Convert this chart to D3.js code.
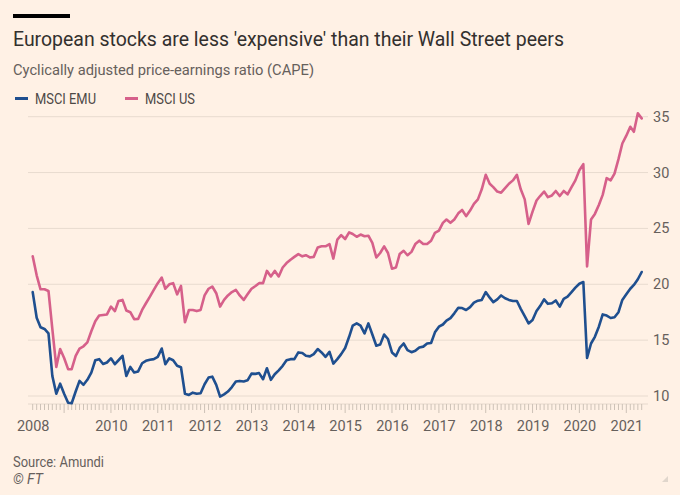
<!DOCTYPE html>
<html><head><meta charset="utf-8">
<script src="https://cdn.jsdelivr.net/npm/d3@7"></script>
<style>
body{margin:0;background:#fff1e5;}
svg{display:block;font-family:Roboto, "Noto Sans", sans-serif;}
</style></head><body>
<svg id="c" width="680" height="495"></svg>
<script>
// Monthly CAPE, May 2008 .. May 2021
const firstMonth = [2008, 4];
const msciEMU = [19.3,17.0,16.15,16.0,15.6,11.8,10.2,11.1,10.2,9.4,
9.35,10.4,11.35,11.0,11.45,12.1,13.2,13.3,12.86,13.0,
13.37,12.85,13.2,13.6,11.8,12.6,12.1,12.2,12.93,13.15,
13.25,13.3,13.5,14.25,12.85,13.37,13.2,12.7,12.57,10.2,
10.1,10.3,10.2,10.24,11.05,11.65,11.73,11.0,9.95,10.15,
10.4,10.8,11.3,11.35,11.3,11.4,12.0,11.98,12.05,11.5,
12.48,11.45,11.95,12.3,12.7,13.2,13.3,13.3,13.9,13.85,
13.6,13.55,13.75,14.2,13.9,13.5,13.95,12.9,13.3,13.75,
14.3,15.3,16.3,16.5,16.3,15.6,16.5,15.5,14.5,14.6,
15.5,15.1,13.9,13.58,14.3,14.7,14.1,13.92,14.05,14.35,
14.42,14.7,14.75,15.7,16.2,16.4,16.75,16.97,17.4,17.9,
17.87,17.7,17.95,18.35,18.53,18.6,19.3,18.8,18.4,18.65,
19.0,18.75,18.6,18.5,18.5,17.8,17.15,16.5,16.8,17.6,
18.05,18.65,18.25,18.3,18.55,18.0,18.7,18.9,19.3,19.7,
20.05,20.2,13.4,14.7,15.3,16.2,17.3,17.2,16.98,17.05,
17.5,18.6,19.1,19.6,19.94,20.45,21.1];
const msciUS = [22.5,20.8,19.55,19.55,19.4,16.0,12.6,14.2,13.4,12.4,
12.4,13.6,14.25,14.45,14.8,15.8,16.7,17.2,17.25,17.3,
18.0,17.6,18.5,18.6,17.65,17.5,16.87,16.9,17.7,18.3,
18.9,19.5,20.1,20.6,19.6,20.0,20.1,19.1,19.85,16.6,
17.7,17.7,17.6,17.7,19.0,19.6,19.8,19.2,18.0,18.6,
19.0,19.3,19.5,19.0,18.6,19.1,19.6,19.85,20.1,20.1,
21.2,20.7,21.2,20.7,21.5,21.9,22.2,22.45,22.7,22.5,
22.6,22.4,22.45,23.3,23.4,23.4,23.6,22.3,24.0,24.4,
24.05,24.65,24.5,24.25,24.45,24.3,24.35,23.7,22.4,22.8,
23.4,22.8,21.4,21.5,22.7,23.0,22.6,22.9,23.6,23.9,
23.6,23.6,23.9,24.6,24.8,25.5,25.8,25.5,25.8,26.35,
26.65,26.1,26.6,27.2,27.6,28.5,29.8,29.0,28.7,28.3,
28.2,28.6,29.0,29.3,29.8,28.5,27.6,25.4,26.5,27.5,
27.9,28.3,27.8,27.95,28.35,27.9,28.35,28.05,28.7,29.3,
30.2,30.75,21.6,25.8,26.3,27.1,28.0,29.5,29.3,29.9,
31.2,32.6,33.3,34.1,33.65,35.3,34.85];
const seriesNames = ["MSCI EMU", "MSCI US"];
const seriesColors = ["#1f4f8f", "#d6608a"];
const yTicks = [10, 15, 20, 25, 30, 35];
const xTickLabels = ["2008","2010","2011","2012","2013","2014","2015","2016","2017","2018","2019","2020","2021"];

const svg = d3.select("#c");
const W = 680, H = 495;
const dates = d3.range(msciEMU.length).map(i => new Date(firstMonth[0], firstMonth[1] + i, 1));
const x = d3.scaleTime().domain([dates[0], dates[dates.length - 1]]).range([32.7, 641.7]);
const y = d3.scaleLinear().domain([10, 35]).range([396, 116.7]);

function fitText(sel, target) {
  const n = sel.node();
  const w = n.getComputedTextLength();
  if (Math.abs(w - target) > 2) sel.attr("textLength", target).attr("lengthAdjust", "spacingAndGlyphs");
}

// header
svg.append("rect").attr("x", 13).attr("y", 14).attr("width", 57).attr("height", 4).attr("fill", "#000");
fitText(svg.append("text").attr("x", 13).attr("y", 46).attr("font-size", 21).attr("fill", "#33302e")
  .text("European stocks are less 'expensive' than their Wall Street peers"), 551);
fitText(svg.append("text").attr("x", 13).attr("y", 75).attr("font-size", 15).attr("fill", "#66605c")
  .text("Cyclically adjusted price-earnings ratio (CAPE)"), 301);

// legend
const legX = [15, 125];
seriesNames.forEach((nm, i) => {
  svg.append("line").attr("x1", legX[i]).attr("x2", legX[i] + 13).attr("y1", 98.5).attr("y2", 98.5)
    .attr("stroke", seriesColors[i]).attr("stroke-width", 3);
  const t = svg.append("text").attr("x", legX[i] + 20).attr("y", 103.5).attr("font-size", 14).attr("fill", "#4d4845").text(nm);
  fitText(t, i === 0 ? 61 : 50);
});

// gridlines + y labels
const grid = svg.append("g");
yTicks.forEach(v => {
  grid.append("line").attr("x1", 28).attr("x2", 648).attr("y1", y(v)).attr("y2", y(v))
    .attr("stroke", "#e8dbcf").attr("stroke-width", 1);
  grid.append("text").attr("x", 653).attr("y", y(v)).attr("dy", "0.35em").attr("font-size", 14.5)
    .attr("fill", "#66605c").text(v);
});

// x axis: monthly ticks
const axY = 404;
const months = d3.timeMonth.range(dates[0], d3.timeMonth.offset(dates[dates.length - 1], 1));
svg.append("line").attr("x1", 28).attr("x2", 648).attr("y1", axY).attr("y2", axY).attr("stroke", "#e6d9cd");
svg.append("g").selectAll("line").data(months).join("line")
  .attr("x1", d => x(d)).attr("x2", d => x(d))
  .attr("y1", axY).attr("y2", d => d.getMonth() === 0 ? axY + 9 : axY + 6)
  .attr("stroke", "#cdc2b7").attr("stroke-width", 1);
const xTickDates = xTickLabels.map((l, i) => i === 0 ? dates[0] : new Date(+l, 0, 1));
const xa = svg.append("g").attr("transform", `translate(0,${axY})`)
  .call(d3.axisBottom(x).tickValues(xTickDates).tickSize(0).tickPadding(17).tickFormat((d, i) => xTickLabels[i]));
xa.select(".domain").remove();
xa.selectAll("text").attr("font-size", 14.5).attr("fill", "#66605c").attr("font-family", "Roboto, sans-serif");

// lines
const line = d3.line().x(d => x(d[0])).y(d => y(d[1])).curve(d3.curveLinear);
[msciUS, msciEMU].forEach((s, k) => {
  const col = k === 0 ? seriesColors[1] : seriesColors[0];
  svg.append("path").datum(dates.map((d, i) => [d, s[i]])).attr("d", line)
    .attr("fill", "none").attr("stroke", col).attr("stroke-width", 2.6)
    .attr("stroke-linejoin", "round").attr("stroke-linecap", "round");
});

// footer
fitText(svg.append("text").attr("x", 13).attr("y", 467).attr("font-size", 14).attr("fill", "#66605c").text("Source: Amundi"), 91);
svg.append("text").attr("x", 13).attr("y", 484).attr("font-size", 14).attr("font-style", "italic").attr("fill", "#66605c").text("© FT");
svg.append("path").attr("d", "M668,476 L668,482 L662,482 Z").attr("fill", "#e0d6cc");
</script>
</body></html>
